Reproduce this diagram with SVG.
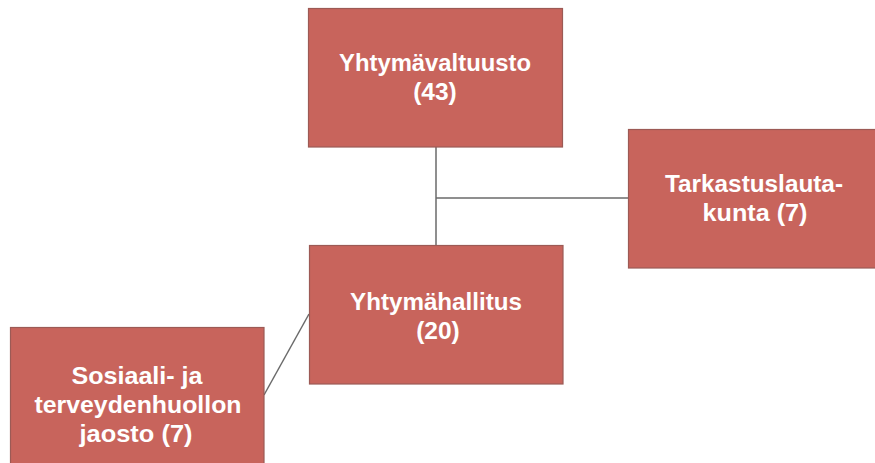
<svg xmlns="http://www.w3.org/2000/svg" width="875" height="463" viewBox="0 0 875 463">
<style>
.box{fill:#c8645c;stroke:#9c5a55;stroke-width:1.2}
.lbl{font-family:"Liberation Sans",Arial,sans-serif;font-weight:bold;font-size:24.5px;fill:#ffffff;text-anchor:middle}
.conn{stroke:#6a6a6a;stroke-width:1.5;fill:none}
</style>
<rect width="875" height="463" fill="#ffffff"/>
<g id="connectors">
<line class="conn" x1="436" y1="147" x2="436" y2="245"/>
<line class="conn" x1="436" y1="198" x2="628" y2="198"/>
<line class="conn" x1="264" y1="395" x2="309" y2="314"/>
</g>
<g id="valtuusto">
<rect class="box" x="308.5" y="8.5" width="254" height="138.5"/>
<text class="lbl" x="435" y="71" textLength="192" lengthAdjust="spacingAndGlyphs">Yhtymävaltuusto</text>
<text class="lbl" x="435" y="100">(43)</text>
</g>
<g id="hallitus">
<rect class="box" x="309.5" y="245.5" width="253.5" height="138.5"/>
<text class="lbl" x="436" y="310" textLength="172" lengthAdjust="spacingAndGlyphs">Yhtymähallitus</text>
<text class="lbl" x="438" y="339">(20)</text>
</g>
<g id="tarkastus">
<rect class="box" x="628.5" y="129.5" width="254" height="138.5"/>
<text class="lbl" x="754" y="192" textLength="178" lengthAdjust="spacingAndGlyphs">Tarkastuslauta-</text>
<text class="lbl" x="755" y="221" textLength="105" lengthAdjust="spacingAndGlyphs">kunta (7)</text>
</g>
<g id="jaosto">
<rect class="box" x="10.5" y="327.5" width="253.5" height="140"/>
<text class="lbl" x="137" y="384" textLength="131" lengthAdjust="spacingAndGlyphs">Sosiaali- ja</text>
<text class="lbl" x="138" y="413" textLength="207" lengthAdjust="spacingAndGlyphs">terveydenhuollon</text>
<text class="lbl" x="136" y="442" textLength="113" lengthAdjust="spacingAndGlyphs">jaosto (7)</text>
</g>
</svg>
